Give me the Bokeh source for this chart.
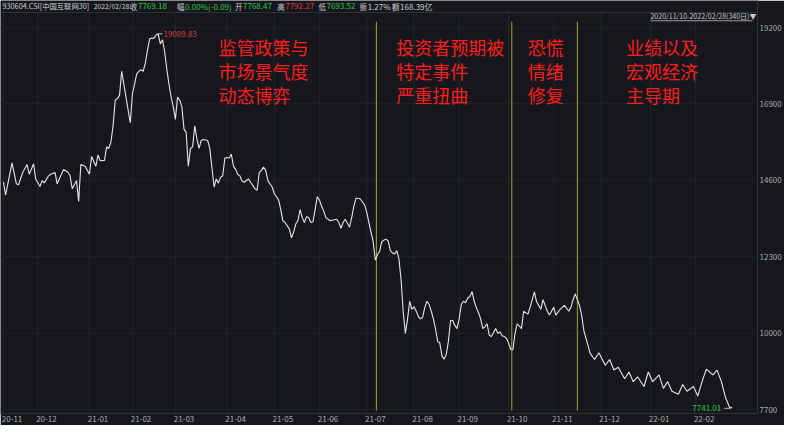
from bokeh.plotting import figure
from bokeh.models import Range1d, FixedTicker, Label
from bokeh.embed import file_html
from bokeh.resources import INLINE

# ---------------- data ----------------
day_idx = [0, 1, 4, 6, 7, 9, 11, 12, 14, 15, 17, 18, 19, 21, 22, 24, 25, 28, 30, 31,
           32, 34, 35, 36, 38, 40, 41, 43, 44, 45, 47, 48, 49, 50, 51, 52, 53, 54, 55, 56,
           57, 58, 59, 60, 61, 62, 63, 64, 65, 66, 67, 68, 69, 70, 71, 72, 73, 74, 75, 76,
           77, 78, 79, 80, 81, 82, 83, 84, 85, 86, 87, 88, 89, 90, 91, 92, 93, 95, 96, 97,
           98, 99, 100, 101, 102, 103, 104, 105, 106, 107, 108, 109, 110, 111, 112, 114, 115, 117, 118, 119,
           120, 121, 122, 123, 125, 126, 127, 128, 129, 130, 131, 133, 134, 135, 136, 137, 138, 139, 140, 141,
           142, 143, 144, 145, 146, 147, 148, 149, 150, 152, 153, 155, 156, 157, 158, 159, 160, 161, 162, 163,
           164, 165, 166, 168, 169, 170, 171, 172, 173, 174, 175, 176, 177, 178, 179, 180, 181, 182, 183, 184,
           185, 186, 187, 188, 189, 190, 191, 192, 193, 194, 195, 196, 197, 198, 199, 200, 201, 202, 203, 204,
           205, 206, 207, 208, 209, 210, 211, 212, 213, 214, 215, 216, 217, 218, 219, 220, 221, 222, 223, 224,
           225, 226, 227, 228, 229, 230, 231, 232, 233, 234, 235, 236, 237, 238, 239, 241, 242, 244, 245, 247,
           248, 250, 251, 253, 254, 256, 257, 259, 261, 263, 264, 265, 266, 268, 269, 270, 272, 273, 275, 277,
           280, 282, 284, 286, 289, 291, 293, 295, 298, 300, 302, 305, 307, 309, 311, 314, 316, 318, 321, 323,
           325, 327, 330, 332, 334, 336, 338, 339]
close = [14554, 14156, 15126, 14496, 14466, 14844, 15076, 14786, 15097, 14641, 14417, 14591, 14525, 14737, 14786, 14835, 14496, 14931, 14844, 14737,
         14350, 14591, 13964, 15076, 15027, 14786, 15317, 15027, 15367, 15192, 15201, 15608, 15561, 15753, 16238, 17013, 17060, 17158, 17884, 17495,
         17109, 16723, 16334, 17205, 17495, 17806, 17884, 17931, 17884, 18126, 18512, 18852, 18881, 18881, 18968, 19009.83, 18706, 18831, 18465, 17950,
         17495, 17109, 16819, 16432, 17109, 17013, 16819, 16142, 16043, 15027, 15561, 15608, 16238, 15852, 15561, 15802, 15831, 15802, 15561, 14980,
         14400, 14641, 14516, 14690, 14737, 15271, 15288, 15271, 15387, 15027, 14931, 14786, 14737, 14574, 14545, 14641, 14545, 14350, 14301, 14835,
         14902, 14998, 14902, 14591, 14400, 14205, 14109, 14011, 13720, 13383, 13334, 13139, 12869, 13044, 13285, 13392, 13720, 13479, 13334, 13508,
         13479, 13334, 13354, 13720, 14109, 14011, 13819, 13674, 13479, 13383, 13401, 13430, 13334, 13160, 13334, 13430, 13314, 13189, 13479, 13819,
         14060, 14060, 14040, 13865, 13645, 13334, 13044, 12753, 12201, 12367, 12463, 12753, 12802, 12831, 12773, 12483, 12413, 12384, 12483, 12230,
         11592, 10624, 9994, 10430, 10961, 10720, 10799, 10671, 10508, 10430, 10479, 10770, 10961, 10866, 10671, 10430, 10140, 9753, 9704, 9318,
         9219, 9364, 9753, 10381, 10381, 10235, 10140, 10430, 10866, 10961, 10915, 11060, 11107, 11252, 10961, 10770, 10624, 10430, 10140, 10189,
         10285, 9945, 9898, 10023, 10140, 9994, 10044, 9927, 9898, 9849, 9704, 9509, 9501, 9994, 10285, 10140, 10662, 10575, 10778, 11243,
         10953, 10720, 11011, 10662, 10546, 10778, 10546, 10720, 10836, 10662, 10778, 11011, 11185, 10836, 10546, 10081, 9617, 9384, 9210, 9414,
         9036, 9210, 8891, 8978, 8629, 8833, 8542, 8688, 8397, 8833, 8542, 8746, 8339, 8542, 8252, 8165, 8455, 8252, 8397, 8107,
         8542, 8920, 8746, 8891, 8542, 8049, 7741.01, 7769.18]

month_start_idx = [0, 16, 40, 60, 80, 104, 126, 147, 169, 191, 212, 235, 256, 278, 301, 322]
month_labels = ["20-11", "20-12", "21-01", "21-02", "21-03", "21-04", "21-05", "21-06",
                "21-07", "21-08", "21-09", "21-10", "21-11", "21-12", "22-01", "22-02"]
y_ticks = [7700, 10000, 12300, 14600, 16900, 19200]
event_idx = [173.5, 236.5, 267.0]
phase_texts = [["监管政策与", "市场景气度", "动态博弈"],
               ["投资者预期被", "特定事件", "严重扭曲"],
               ["恐慌", "情绪", "修复"],
               ["业绩以及", "宏观经济", "主导期"]]
index_name = "930604.CSI[中国互联网30]"
quote_date = "2022/02/28"
quote_keys = ["收", "幅", "开", "高", "低", "振", "额"]
quote_vals = ["7769.18", "0.00%(-0.09)", "7768.47", "7792.27", "7693.52", "1.27%", "168.39亿"]
range_text = "2020/11/10-2022/02/28(340日)▼"
max_value = 19009.83
min_value = 7741.01

# ---------------- layout / style ----------------
W, H = 784, 425
BG = "#15171c"
FONT = "Noto Sans CJK SC"
AXIS_C = "#30333b"
X_START, X_END = -1.37, 350.8      # frame spans reference px 0..771
Y_START, Y_END = 7584, 20013       # frame spans reference px 428..0
REF_FRAME_W = 771.0
REF_FRAME_H = 428.0


def ax(rx):
    return X_START + rx / REF_FRAME_W * (X_END - X_START)


def ay(ry):
    return Y_END - ry / REF_FRAME_H * (Y_END - Y_START)


p = figure(width=W, height=H, output_backend="svg", toolbar_location=None,
           x_range=Range1d(X_START, X_END), y_range=Range1d(Y_START, Y_END),
           y_axis_location="right", min_border_left=0, min_border_right=24,
           min_border_top=0, min_border_bottom=12)
p.background_fill_color = BG
p.border_fill_color = BG
p.outline_line_color = None

# grids
p.xgrid.grid_line_color = None
p.ygrid.ticker = FixedTicker(ticks=y_ticks)
p.ygrid.grid_line_color = "#1c1f25"
n_m = len(month_start_idx)
p.segment(x0=month_start_idx, y0=[ay(12.5)] * n_m, x1=month_start_idx, y1=[Y_START] * n_m,
          line_color="#23262d", line_width=1)

# header separator
p.segment(x0=[X_START], y0=[ay(12.5)], x1=[X_END], y1=[ay(12.5)], line_color=AXIS_C, line_width=1)

# bottom axis (labels sit just right of each month start)
label_pos = [m + 4 for m in month_start_idx]
p.xaxis.ticker = FixedTicker(ticks=label_pos)
p.xaxis.major_label_overrides = {lp: lab for lp, lab in zip(label_pos, month_labels)}
for a in (p.xaxis, p.yaxis):
    a.major_tick_line_color = None
    a.minor_tick_line_color = None
    a.major_tick_out = 0
    a.major_tick_in = 0
    a.minor_tick_out = 0
    a.axis_line_color = AXIS_C
    a.major_label_text_color = "#a9abb0"
    a.major_label_text_font_size = "8px"
    a.major_label_text_font = FONT
    a.major_label_standoff = 2

# right axis
p.yaxis.ticker = FixedTicker(ticks=y_ticks)

# event lines
n_e = len(event_idx)
p.segment(x0=event_idx, y0=[ay(22)] * n_e, x1=event_idx, y1=[ay(425)] * n_e,
          line_color="#a6a62e", line_width=1)

# price line
p.line(day_idx, close, line_color="#e6e6e6", line_width=1.1)

# max / min markers
imax = close.index(max_value)
imin = close.index(min_value)
p.segment(x0=[day_idx[imax]], y0=[max_value], x1=[ax(165)], y1=[max_value],
          line_color="#bbbbbb", line_width=1)
p.add_layout(Label(x=ax(166), y=max_value, text=f"{max_value:.2f}", text_color="#d04545",
                   text_font_size="8px", text_font=FONT, text_baseline="middle"))
p.segment(x0=[ax(737)], y0=[min_value], x1=[day_idx[imin]], y1=[min_value],
          line_color="#bbbbbb", line_width=1)
p.add_layout(Label(x=ax(734), y=min_value, text=f"{min_value:.2f}", text_color="#2cc64e",
                   text_font_size="8px", text_font=FONT, text_baseline="middle",
                   text_align="right"))

# phase annotations
phase_left = [222, 403, 537, 637]
for left, lines in zip(phase_left, phase_texts):
    for k, t in enumerate(lines):
        p.add_layout(Label(x=ax(left), y=ay(48 + 25 * k), text=t, text_color="#ff1e1e",
                           text_font_size="18px", text_font=FONT, text_baseline="middle"))

# header row
GRAY = "#cfd0d3"
GREEN = "#2cc64e"
RED = "#e23b3b"
p.add_layout(Label(x=ax(2), y=ay(6), text=index_name, text_color=GRAY, text_font_size="7.3px",
                   text_font=FONT, text_baseline="middle"))
p.add_layout(Label(x=ax(95), y=ay(6), text=quote_date, text_color=GRAY, text_font_size="6.8px",
                   text_font=FONT, text_baseline="middle"))
val_x = [140, 188, 247, 290, 332, 374, 407]
val_c = [GREEN, GREEN, GREEN, RED, GREEN, GRAY, GRAY]
for k_t, v_t, vx, vc in zip(quote_keys, quote_vals, val_x, val_c):
    p.add_layout(Label(x=ax(vx - 0.6), y=ay(6), text=k_t, text_color=GRAY, text_font_size="7.5px",
                       text_font=FONT, text_baseline="middle", text_align="right"))
    p.add_layout(Label(x=ax(vx), y=ay(6), text=v_t, text_color=vc, text_font_size="8px",
                       text_font=FONT, text_baseline="middle"))

# range selector text (underlined)
p.add_layout(Label(x=ax(662), y=ay(16.5), text=range_text, text_color="#c9cacd",
                   text_font_size="7px", text_font=FONT, text_baseline="middle"))
p.segment(x0=[ax(662)], y0=[ay(21)], x1=[ax(766)], y1=[ay(21)],
          line_color="#9a9ba0", line_width=1)

open("out.html", "w").write(file_html(p, INLINE))
